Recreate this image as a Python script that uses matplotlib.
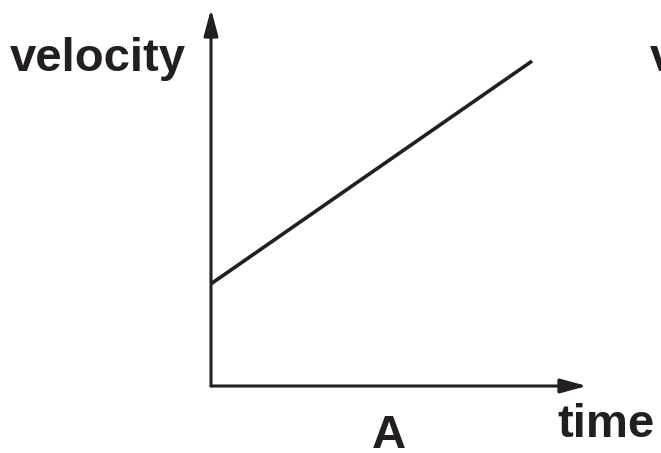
import matplotlib
matplotlib.use("Agg")
import matplotlib.pyplot as plt

# data (arbitrary units on the diagram axes)
time = [0.0, 8.54]
velocity = [2.71, 8.62]
x_label = "time"
y_label = "velocity"
panel_label = "A"

INK = "#231f20"
W, H = 661, 453

fig = plt.figure(figsize=(W / 100, H / 100), dpi=100)
fig.patch.set_facecolor("white")

# axes origin at pixel (211, 386), arrow tips at x=587, y=9
ox, oy = 211, 386
tipx, tipy = 587, 9
ax = fig.add_axes([ox / W, (H - oy) / H, (tipx - ox) / W, (oy - tipy) / H])
ax.set_xlim(0, 10)
ax.set_ylim(0, 10)
ax.axis("off")

ax.plot(time, velocity, color=INK, lw=2.6, solid_capstyle="butt", clip_on=False)

arrow_kw = dict(arrowstyle="-|>,head_length=1.6,head_width=0.43", mutation_scale=10,
                lw=2.2, color=INK, shrinkA=0, shrinkB=0)
ax.annotate("", xy=(10, 0), xytext=(0, 0), arrowprops=arrow_kw, annotation_clip=False)
ax.annotate("", xy=(0, 10), xytext=(0, 0), arrowprops=arrow_kw, annotation_clip=False)

font = dict(family=["Liberation Sans", "DejaVu Sans"], fontweight="bold", color=INK)
fig.text(10 / W, (H - 71) / H, y_label, fontsize=34, ha="left", va="baseline", **font)
fig.text(650 / W, (H - 71) / H, y_label, fontsize=34, ha="left", va="baseline", **font)
fig.text(557 / W, (H - 437) / H, x_label, fontsize=34, ha="left", va="baseline", **font)
fig.text(389 / W, (H - 448) / H, panel_label, fontsize=34, ha="center", va="baseline", **font)

fig.savefig("out.png", dpi=100, facecolor="white")
